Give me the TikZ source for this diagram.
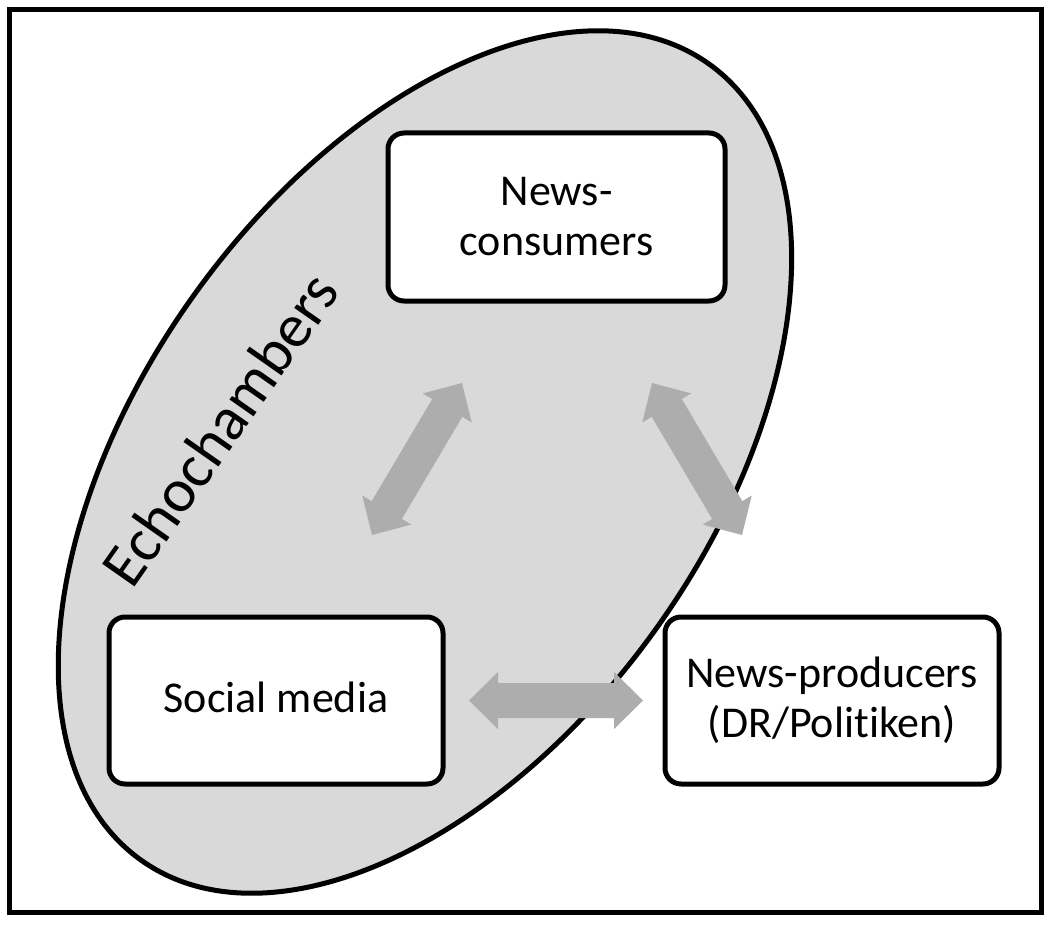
\documentclass[tikz,border=0pt]{standalone}
\usepackage{fontspec}
\setmainfont{Carlito}[Ligatures=NoCommon]
\usetikzlibrary{calc}
\definecolor{ellgray}{HTML}{D9D9D9}
\definecolor{arrgray}{HTML}{ADADAD}
\newcommand\dblarrow[2]{%
  \coordinate (#1h) at ($(#1)!29pt!(#2)$);
  \coordinate (#2h) at ($(#2)!29pt!(#1)$);
  \fill[arrowfill] (#1)
    -- ($(#1h)!28.5pt!90:(#2)$) -- ($(#1h)!17.5pt!90:(#2)$)
    -- ($(#2h)!17.5pt!-90:(#1)$) -- ($(#2h)!28.5pt!-90:(#1)$)
    -- (#2)
    -- ($(#2h)!28.5pt!90:(#1)$) -- ($(#2h)!17.5pt!90:(#1)$)
    -- ($(#1h)!17.5pt!-90:(#2)$) -- ($(#1h)!28.5pt!-90:(#2)$)
    -- cycle;
}
\begin{document}
\begin{tikzpicture}[x=1pt,y=-1pt,
  box/.style={draw=black, line width=5pt, fill=white, rounded corners=16pt,
    align=center, font=\fontsize{44}{50}\selectfont, inner sep=0pt},
  arrowfill/.style={fill=arrgray},
  echofont/.style={font=\fontsize{61.6}{70}\selectfont, rotate=55, anchor=base, inner sep=0pt},
  frame/.style={draw=black, line width=5pt},
  chamber/.style={draw=black, line width=5pt, fill=ellgray}]
\useasboundingbox (0,0) rectangle (1054,925);
\fill[white] (0,0) rectangle (1054,925);
\draw[frame] (9,9.5) rectangle (1041,912);
% echo chamber ellipse
\coordinate (ec) at (425,462);
\draw[chamber, rotate around={54.5:(ec)}] (ec) ellipse [x radius=489pt, y radius=285pt];
% boxes
\node[box, minimum width=337pt, minimum height=168pt] (cons) at (556.5,217) {News-\\consumers};
\node[box, minimum width=334pt, minimum height=167pt, text height=33pt, text depth=9pt] (soc) at (276,700.5) {Social media};
\node[box, minimum width=334pt, minimum height=167pt] (prod) at (832,700.5) {News-producers\\(DR/Politiken)};
% arrows
\coordinate (a1) at (372,535); \coordinate (b1) at (462,383);
\coordinate (a2) at (652,383); \coordinate (b2) at (742,535);
\coordinate (a3) at ($(soc.east)+(23.5,0)$); \coordinate (b3) at ($(prod.west)+(-19.5,0)$);
\dblarrow{a1}{b1}
\dblarrow{a2}{b2}
\dblarrow{a3}{b3}
% label
\coordinate (echo) at (237,441);
\node[echofont] (echolabel) at (echo) {Echochambers};
\end{tikzpicture}
\end{document}
